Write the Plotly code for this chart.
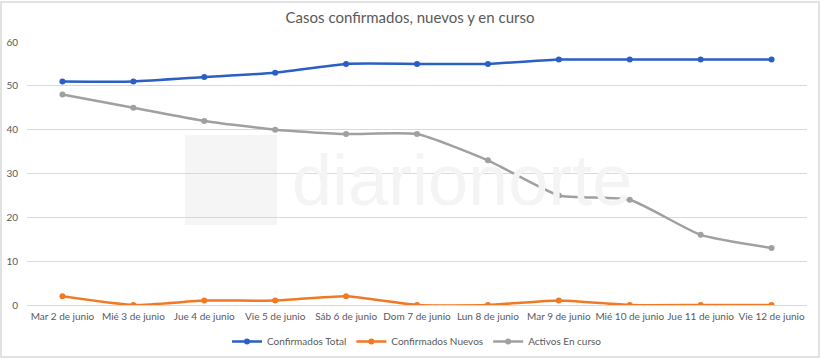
import plotly.graph_objects as go

categories = ["Mar 2 de junio", "Mié 3 de junio", "Jue 4 de junio", "Vie 5 de junio",
              "Sáb 6 de junio", "Dom 7 de junio", "Lun 8 de junio", "Mar 9 de junio",
              "Mié 10 de junio", "Jue 11 de junio", "Vie 12 de junio"]
confirmados_total = [51, 51, 52, 53, 55, 55, 55, 56, 56, 56, 56]
confirmados_nuevos = [2, 0, 1, 1, 2, 0, 0, 1, 0, 0, 0]
activos_en_curso = [48, 45, 42, 40, 39, 39, 33, 25, 24, 16, 13]
y_ticks = [0, 10, 20, 30, 40, 50, 60]

series = [
    ("Confirmados Total", confirmados_total, "#2A5FC4"),
    ("Confirmados Nuevos", confirmados_nuevos, "#F07A24"),
    ("Activos En curso", activos_en_curso, "#A0A0A0"),
]

fig = go.Figure()
for name, vals, color in series:
    fig.add_trace(go.Scatter(
        x=categories, y=vals, name=name, mode="lines+markers",
        line=dict(color=color, width=2.5, shape="spline", smoothing=0.5),
        marker=dict(color=color, size=6),
    ))

font_family = "Lato, 'Liberation Sans', sans-serif"
fig.update_layout(
    width=820, height=359,
    margin=dict(l=27, r=13, t=42, b=54, autoexpand=False),
    paper_bgcolor="white", plot_bgcolor="white",
    font=dict(family=font_family, size=10, color="#595959"),
    title=dict(text="Casos confirmados, nuevos y en curso", x=0.5, xanchor="center",
               y=1 - 18 / 359, yanchor="middle",
               font=dict(size=15, color="#595959", family=font_family)),
    showlegend=True,
    legend=dict(orientation="h", x=0.5, xanchor="center", y=-(341 - 305 - 14) / 263, yanchor="top",
                font=dict(size=10, color="#595959"), traceorder="normal"),
    xaxis=dict(type="category", range=[-0.5, len(categories) - 0.5],
               showgrid=False, showline=False, zeroline=False,
               ticks="", tickangle=0, automargin=False,
               tickfont=dict(size=10, color="#595959"), ticklabelstandoff=4),
    yaxis=dict(range=[0, 60], tickvals=y_ticks, showgrid=True, gridcolor="#D9D9D9",
               gridwidth=1, zeroline=True, zerolinecolor="#D9D9D9", zerolinewidth=1,
               showline=False, ticks="", automargin=False,
               tickfont=dict(size=10, color="#595959"), ticklabelstandoff=8),
    shapes=[
        dict(type="rect", xref="paper", yref="paper",
             x0=-26 / 780, x1=1 + 12 / 780, y0=-52 / 263, y1=1 + 40 / 263,
             line=dict(color="#D9D9D9", width=1.5), fillcolor="rgba(0,0,0,0)",
             layer="below"),
        dict(type="rect", xref="paper", yref="paper",
             x0=(185 - 27) / 780, x1=(277 - 27) / 780,
             y0=(305 - 225) / 263, y1=(305 - 135) / 263,
             line=dict(width=0), fillcolor="#F5F5F5", layer="below"),
    ],
    annotations=[
        dict(text="diarionorte", xref="paper", yref="paper",
             x=(462 - 27) / 780, y=(305 - 180) / 263, showarrow=False,
             font=dict(size=72, color="#F4F4F4", family="'Liberation Sans Narrow', 'Liberation Sans', sans-serif")),
    ],
)

fig.write_html("out.html", config={"displayModeBar": False},
               post_script="document.body.style.margin='0';document.body.style.overflow='hidden';")
